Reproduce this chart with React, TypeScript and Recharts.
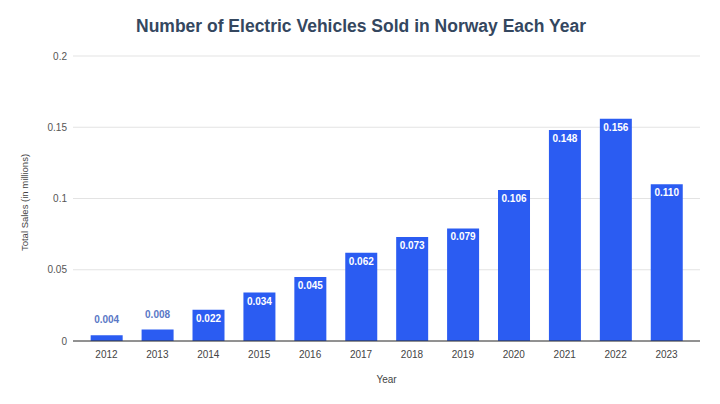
import React from 'react';
import { BarChart, Bar, XAxis, YAxis, CartesianGrid, LabelList, Label } from 'recharts';

const years = ['2012', '2013', '2014', '2015', '2016', '2017', '2018', '2019', '2020', '2021', '2022', '2023'];
const sales = [0.004, 0.008, 0.022, 0.034, 0.045, 0.062, 0.073, 0.079, 0.106, 0.148, 0.156, 0.110];
const yTicks = [0, 0.05, 0.1, 0.15, 0.2];

const data = years.map((y, i) => ({ year: y, sales: sales[i] }));

const FONT = '"Liberation Sans", Arial, sans-serif';
const BAR_COLOR = '#2b5cf2';

const renderLabel = (props: any) => {
  const { x, y, width, height, value } = props;
  const cx = x + width / 2;
  const txt = Number(value).toFixed(3);
  if (height < 20) {
    return (
      <text x={cx} y={y - 12} textAnchor="middle" fill="#5a78c6" fontSize={10} fontWeight="bold" fontFamily={FONT}>
        {txt}
      </text>
    );
  }
  return (
    <text x={cx} y={y + 12} textAnchor="middle" fill="#ffffff" fontSize={10} fontWeight="bold" fontFamily={FONT}>
      {txt}
    </text>
  );
};

const renderYLabel = (props: any) => {
  const vb = props.viewBox || { x: 0, y: 56, width: 73, height: 285 };
  const cx = 25;
  const cy = vb.y + vb.height / 2 + 4;
  return (
    <text
      x={cx}
      y={cy}
      transform={`rotate(-90, ${cx}, ${cy})`}
      textAnchor="middle"
      dominantBaseline="middle"
      fill="#444"
      fontSize={9.5}
      fontFamily={FONT}
    >
      Total Sales (in millions)
    </text>
  );
};

export default function App() {
  return (
    <div style={{ position: 'fixed', left: 0, top: 0, width: 720, height: 404, background: '#fff' }}>
      <div
        style={{
          position: 'absolute',
          top: 16,
          left: 0,
          width: 722,
          textAlign: 'center',
          fontFamily: FONT,
          fontWeight: 'bold',
          fontSize: 17.5,
          color: '#34475f',
        }}
      >
        Number of Electric Vehicles Sold in Norway Each Year
      </div>
      <BarChart
        width={720}
        height={404}
        data={data}
        margin={{ top: 56, right: 20, bottom: 18, left: 0 }}
        barCategoryGap="19%"
      >
        <CartesianGrid vertical={false} stroke="#e3e3e3" />
        <XAxis
          dataKey="year"
          padding={{ left: 8, right: 8 }}
          tickLine={false}
          axisLine={{ stroke: '#333', strokeWidth: 1 }}
          tick={{ fontSize: 10, fill: '#444', fontFamily: FONT }}
          tickMargin={4}
          height={45}
          interval={0}
        >
          <Label value="Year" position="insideBottom" offset={3} style={{ fontSize: 10, fill: '#444', fontFamily: FONT }} />
        </XAxis>
        <YAxis
          width={73}
          domain={[0, 0.2]}
          ticks={yTicks}
          tickLine={false}
          axisLine={false}
          tickSize={0}
          tickMargin={6}
          tick={{ fontSize: 10, fill: '#555', fontFamily: FONT }}
          label={renderYLabel}
        />
        <Bar dataKey="sales" fill={BAR_COLOR} isAnimationActive={false}>
          <LabelList dataKey="sales" content={renderLabel} />
        </Bar>
      </BarChart>
    </div>
  );
}
